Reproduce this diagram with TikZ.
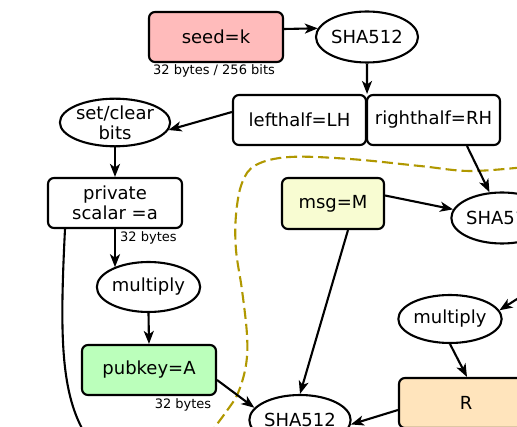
\documentclass[tikz,border=0pt]{standalone}
\usepackage{fontspec}
\setmainfont{DejaVu Sans}
\usetikzlibrary{arrows.meta,shapes.geometric}
\definecolor{seedc}{HTML}{FFBBBB}
\definecolor{pubc}{HTML}{BBFFBB}
\definecolor{msgc}{HTML}{F8FCD2}
\definecolor{rc}{HTML}{FFE4BC}
\definecolor{olivec}{HTML}{B09800}
\newcommand{\bigf}{\fontsize{18}{20}\selectfont}
\newcommand{\smallf}{\fontsize{13}{15}\selectfont}
\begin{document}
\begin{tikzpicture}[x=1pt,y=-1pt,
  box/.style={draw, line width=2.1pt, rounded corners=6pt, inner sep=0pt, align=center, font=\bigf},
  oval/.style={draw, ellipse, line width=2.1pt, inner sep=0pt, align=center, font=\bigf, fill=white},
  arr/.style={-{Stealth[length=13pt,width=10pt,inset=3.5pt]}, line width=2.1pt},
  plain/.style={line width=2.1pt},
  lbl/.style={font=\smallf, inner sep=0pt},
  dashline/.style={draw=olivec, line width=2.1pt, dash pattern=on 11pt off 5pt}
]
\useasboundingbox (0,0) rectangle (517,427);
\clip (0,0) rectangle (517,427);
\fill[white] (0,0) rectangle (517,427);

% dashed boundary
\draw[dashline] plot[smooth, tension=0.6] coordinates {(208,436) (226,412) (238,393) (246,365) (247,335) (242,290) (236,250) (236,215) (242,183) (256,165) (290,157) (350,159) (420,166) (470,171) (525,167)};

% nodes
\node[box, fill=seedc, minimum width=134pt, minimum height=50pt] (seed) at (216,37) {seed=k};
\node[lbl] (seedl) at (214,71) {32 bytes / 256 bits};
\node[oval, minimum width=102pt, minimum height=51pt] (sha1) at (367,37) {SHA512};
\node[box, minimum width=133pt, minimum height=50pt] (lh) at (299.5,120) {lefthalf=LH};
\node[box, minimum width=133pt, minimum height=50pt] (rh) at (433.5,120) {righthalf=RH};
\node[oval, minimum width=101pt, minimum height=47pt, text depth=0pt] (sc) at (115,122.5) {\fontsize{18}{18.5}\selectfont set/clear\\bits};
\node[box, minimum width=134pt, minimum height=50pt] (priv) at (115,203) {\fontsize{18}{19.5}\selectfont private\\scalar =a};
\node[lbl, anchor=west] (privl) at (120,238) {32 bytes};
\node[oval, minimum width=101pt, minimum height=50pt] (ml) at (148.5,287) {multiply};
\node[box, fill=pubc, minimum width=134pt, minimum height=50pt] (pub) at (149,370) {pubkey=A};
\node[lbl] (publ) at (183,405) {32 bytes};
\node[box, fill=msgc, minimum width=102pt, minimum height=51pt] (msg) at (333,203.5) {msg=M};
\node[oval, minimum width=100pt, minimum height=51pt] (sha2) at (502,218) {SHA512};
\node[oval, minimum width=101pt, minimum height=48pt] (mr) at (450,319) {multiply};
\node[box, fill=rc, minimum width=134pt, minimum height=50pt] (R) at (466,403) {R};
\node[oval, minimum width=101pt, minimum height=50pt] (sha3) at (300,420) {SHA512};
\coordinate (in2) at (528,292);
\coordinate (down1) at (84,432);

% connectors
\draw[arr] ([yshift=8pt]seed.east) -- (sha1.170);
\draw[arr] (sha1.south) -- (lh.north east);
\draw[arr] ([yshift=8pt]lh.west) -- (sc.-8);
\draw[arr] (sc.south) -- (priv.north);
\draw[arr] (priv.south) -- (priv.south |- ml.150);
\draw[plain] ([xshift=-50pt]priv.south) .. controls (60,330) and (60,390) .. (down1);
\draw[arr] (ml.south) -- (pub.north);
\draw[arr] ([yshift=-10pt]pub.east) -- (sha3.165);
\draw[arr] ([yshift=8pt]msg.east) -- (sha2.170);
\draw[arr] ([xshift=15pt]msg.south) -- (sha3.north);
\draw[arr] ([xshift=33.5pt]rh.south) -- (sha2);
\draw[arr] (in2) -- (mr.10);
\draw[arr] (mr.south) -- ([xshift=1pt]R.north);
\draw[arr] ([yshift=-7pt]R.west) -- (sha3.-5);
\end{tikzpicture}
\end{document}
